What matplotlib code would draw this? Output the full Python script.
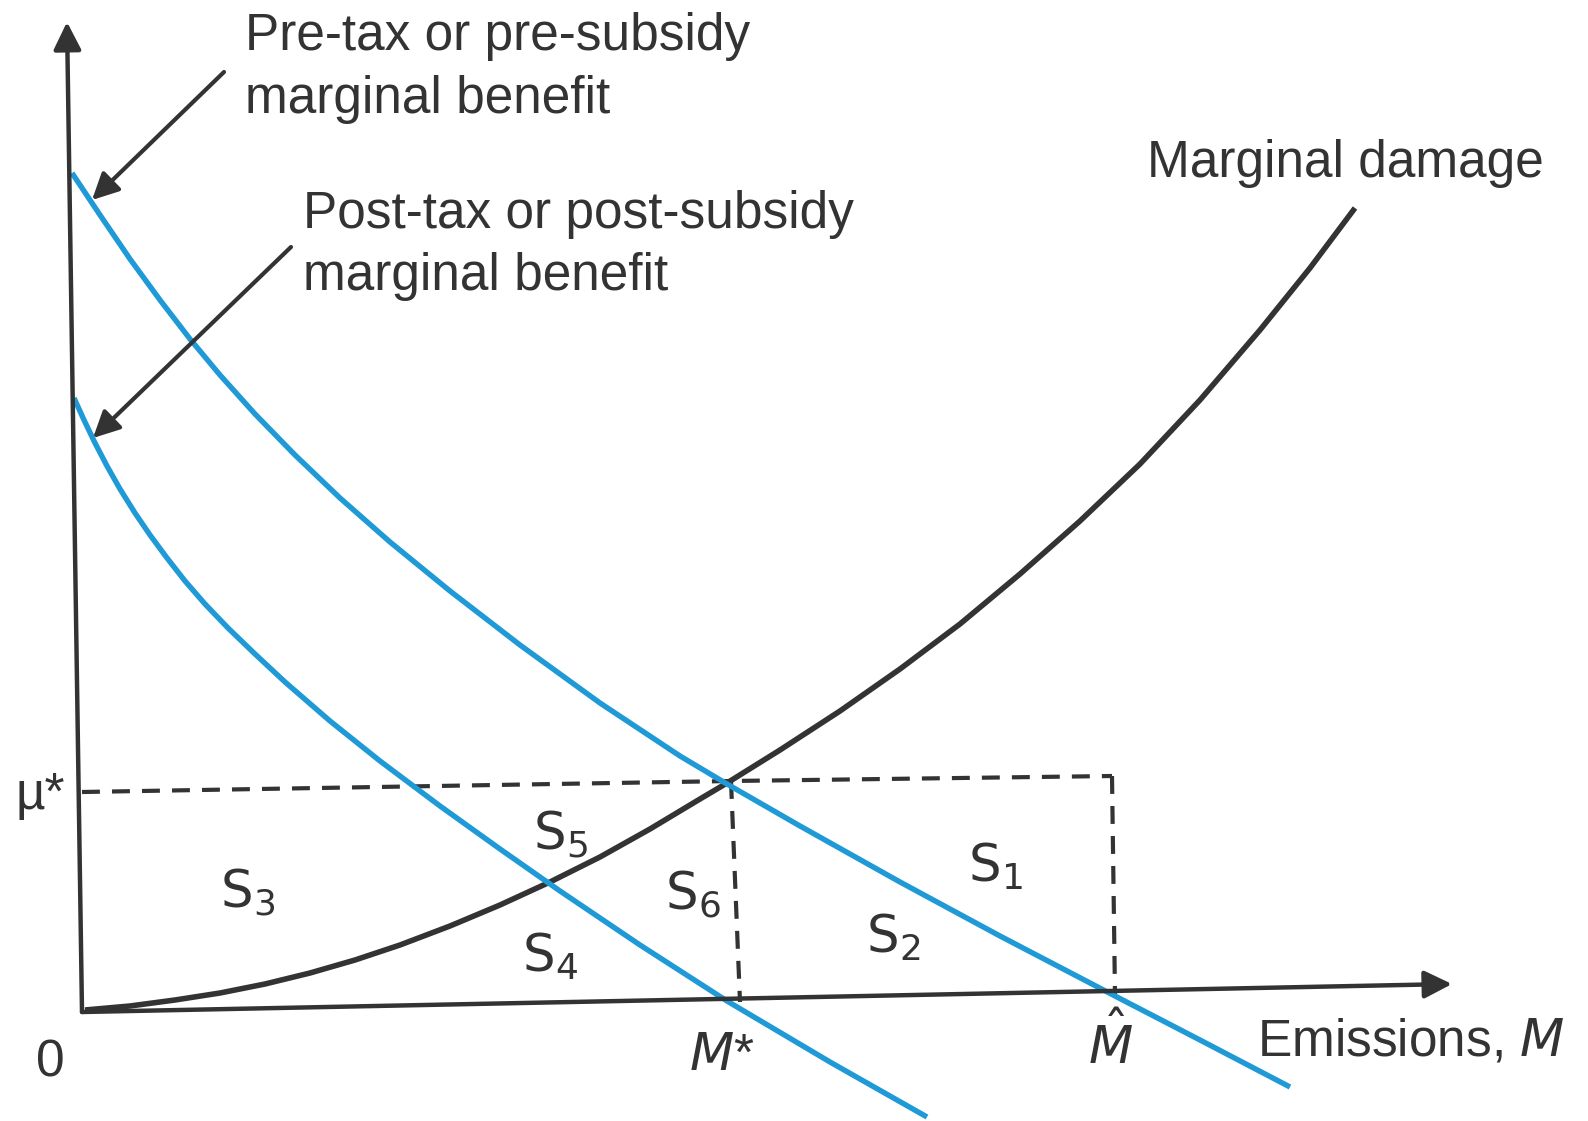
import numpy as np
import matplotlib.pyplot as plt

# narrow grotesque like the textbook, mathtext in the same face
plt.rcParams['font.family'] = ['Liberation Sans Narrow', 'Liberation Sans', 'DejaVu Sans']
plt.rcParams['mathtext.fontset'] = 'custom'
plt.rcParams['mathtext.rm'] = 'Liberation Sans Narrow'
plt.rcParams['mathtext.it'] = 'Liberation Sans Narrow:italic'

# ---- curves (image pixel coords, y down) ----
pre_mb_x = [72, 100, 130, 160, 190, 220, 255, 295, 340, 390, 450, 520, 600, 680, 727,
            800, 900, 1000, 1115, 1200, 1290]
pre_mb_y = [173, 215, 259, 300, 339, 375, 414, 455, 498, 542, 591, 645, 703, 756, 784,
            826, 882, 936, 996, 1040, 1087]

post_mb_x = [74, 84, 95, 107, 120, 135, 150, 167, 185, 205, 228, 255, 285, 330, 380,
             440, 500, 560, 640, 727, 830, 927]
post_mb_y = [398, 420, 443, 466, 489, 513, 535, 558, 581, 604, 628, 654, 682, 721, 761,
             806, 849, 891, 945, 1001, 1062, 1117]

md_x = [85, 130, 175, 220, 265, 310, 355, 400, 450, 500, 550, 600, 650, 700, 727,
        780, 840, 900, 960, 1020, 1080, 1140, 1200, 1260, 1310, 1355]
md_y = [1010, 1006, 1000, 993, 984, 973, 960, 945, 926, 905, 882, 857, 829, 799, 783,
        750, 711, 669, 624, 574, 521, 464, 400, 330, 268, 208]

# axes (the scan is a little rotated)
origin = (82, 1012)
y_tip = (67, 22)
x_tip = (1452, 984)

# mu* level and the two emission levels
mu_line_x = [82, 731, 1112]
mu_line_y = [792, 781, 776]
m_star_x = [731, 740]
m_star_y = [781, 1002]
m_hat_x = [1112, 1115]
m_hat_y = [776, 995]

# area labels: (text, x, y)
area_labels = [
    (r'$\mathrm{S}_1$', 995, 867),
    (r'$\mathrm{S}_2$', 893, 938),
    (r'$\mathrm{S}_3$', 248, 892),
    (r'$\mathrm{S}_4$', 550, 957),
    (r'$\mathrm{S}_5$', 560, 834),
    (r'$\mathrm{S}_6$', 693, 894),
]

BLUE = '#1f9ad6'
INK = '#333333'
FS = 37

fig = plt.figure(figsize=(15.88, 11.21), dpi=100)
ax = fig.add_axes([0, 0, 1, 1])
ax.set_xlim(0, 1588)
ax.set_ylim(1121, 0)
ax.axis('off')

# axes with arrow heads
for tip in (y_tip, x_tip):
    ax.annotate('', xy=tip, xytext=origin,
                arrowprops=dict(arrowstyle='-|>', color=INK, lw=3.2,
                                mutation_scale=42, shrinkA=0, shrinkB=0))

# dashed guides
dash = (0, (4.3, 2.9))
ax.plot(mu_line_x, mu_line_y, color=INK, lw=3.0, linestyle=dash)
ax.plot(m_star_x, m_star_y, color=INK, lw=3.0, linestyle=dash)
ax.plot(m_hat_x, m_hat_y, color=INK, lw=3.0, linestyle=dash)

# curves
ax.plot(md_x, md_y, color=INK, lw=4.0, solid_capstyle='butt', solid_joinstyle='round')
ax.plot(pre_mb_x, pre_mb_y, color=BLUE, lw=3.9, solid_capstyle='butt', solid_joinstyle='round')
ax.plot(post_mb_x, post_mb_y, color=BLUE, lw=3.9, solid_capstyle='butt', solid_joinstyle='round')

# pointer arrows to the benefit curves
ax.annotate('', xy=(92, 200), xytext=(224, 72),
            arrowprops=dict(arrowstyle='-|>', color=INK, lw=3.0,
                            mutation_scale=40, shrinkA=0, shrinkB=0))
ax.annotate('', xy=(93, 438), xytext=(291, 247),
            arrowprops=dict(arrowstyle='-|>', color=INK, lw=3.0,
                            mutation_scale=40, shrinkA=0, shrinkB=0))

# curve labels
ax.text(245, 50, 'Pre-tax or pre-subsidy', fontsize=FS, color=INK, ha='left', va='baseline')
ax.text(245, 113, 'marginal benefit', fontsize=FS, color=INK, ha='left', va='baseline')
ax.text(303, 228, 'Post-tax or post-subsidy', fontsize=FS, color=INK, ha='left', va='baseline')
ax.text(303, 290, 'marginal benefit', fontsize=FS, color=INK, ha='left', va='baseline')
ax.text(1147, 177, 'Marginal damage', fontsize=FS, color=INK, ha='left', va='baseline')

# axis labels
ax.text(40, 796, 'µ*', fontsize=FS, color=INK, ha='center', va='center')
ax.text(50, 1063, '0', fontsize=FS, color=INK, ha='center', va='center')
ax.text(722, 1057, r'$M$*', fontsize=FS, color=INK, ha='center', va='center')
ax.text(1110, 1045, r'$\hat{M}$', fontsize=FS, color=INK, ha='center', va='center')
ax.text(1257, 1042, r'Emissions, $M$', fontsize=FS, color=INK, ha='left', va='center')

for label, x, y in area_labels:
    ax.text(x, y, label, fontsize=FS, color=INK, ha='center', va='center')

fig.savefig('out.png', dpi=100)
